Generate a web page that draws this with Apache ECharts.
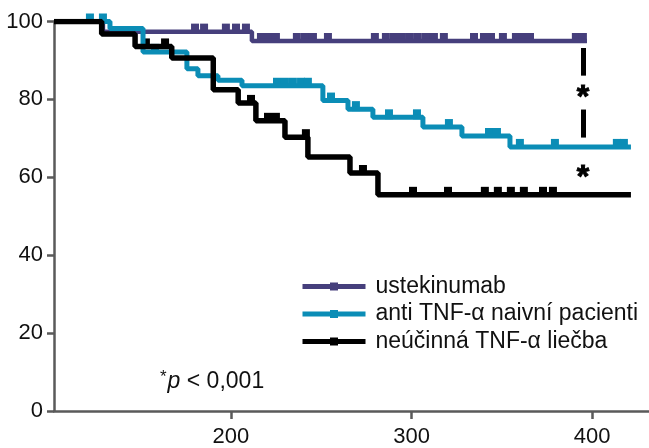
<!DOCTYPE html>
<html>
<head>
<meta charset="utf-8">
<script src="https://cdn.jsdelivr.net/npm/echarts@6/dist/echarts.min.js"></script>
<style>
  html, body { margin: 0; padding: 0; background: #fff; }
  #chart { width: 649px; height: 448px; }
</style>
</head>
<body>
<div id="chart"></div>
<script>
// step curves: [time, % at that time]
const ustSteps = [[102, 100], [129.1, 97.4], [211.6, 95.0], [397.1, 95.0]];
const naiveSteps = [[102, 100], [133.0, 98.2], [151.3, 92.2], [175.6, 87.9], [181.7, 86.1], [192.8, 84.9],
  [206.1, 83.5], [250.9, 79.7], [264.8, 77.5], [278.6, 75.4], [306.3, 72.9], [327.9, 70.6], [354.5, 67.8], [421.5, 67.8]];
const failSteps = [[102, 100], [128.4, 96.8], [146.9, 93.6], [167.2, 90.6], [190.2, 82.5], [204.0, 79.1],
  [213.8, 74.5], [229.9, 70.3], [242.6, 65.2], [265.9, 61.1], [281.4, 55.5], [421.5, 55.5]];

// censored times
const ustCensor = [180.1, 185.1, 197.2, 202.8, 208.3, 216.6, 220.5, 224.9, 236.5, 241.0, 245.4, 253.7, 279.7,
  285.8, 290.3, 294.7, 299.1, 303.5, 308.0, 312.4, 317.9, 334.6, 340.1, 344.0, 350.6, 357.8, 361.7, 365.6, 391.0, 394.9];
const naiveCensor = [121.9, 129.1, 157.9, 225.5, 229.9, 234.3, 238.8, 242.6, 255.4, 269.2, 287.5, 303.0, 320.7,
  342.9, 347.3, 360.0, 379.4, 413.7, 417.6];
const failCensor = [152.9, 163.5, 211.1, 220.5, 224.9, 241.5, 273.1, 300.8, 320.2, 340.6, 347.8, 355.0, 362.2, 372.8, 378.3];

const names = ['ustekinumab', 'anti TNF-α naivní pacienti', 'neúčinná TNF-α liečba'];
const colors = ['#463f7c', '#0b8db6', '#000000'];
const xTicks = [200, 300, 400];

// significance markers
const sigSegments = [[[395, 93.2], [395, 86.1]], [[395, 77.4], [395, 70.2]]];
const sigStars = [[395, 82.0], [395, 61.6]];

const font = 'Liberation Sans';

function levelAt(steps, t) {
  let y = steps[0][1];
  steps.forEach(p => { if (p[0] <= t) y = p[1]; });
  return y;
}

const lineSeries = {
  type: 'line',
  step: 'end',
  symbol: 'rect',
  showSymbol: false,
  silent: true,
  animation: false
};
const censorSeries = {
  type: 'scatter',
  symbol: 'rect',
  symbolSize: [8, 10],
  symbolOffset: [0, -3],
  silent: true,
  animation: false
};

const chart = echarts.init(document.getElementById('chart'));
const option = {
  animation: false,
  grid: {
    left: 54,
    right: 0,
    top: 21.5,
    bottom: 35
  },
  legend: {
    data: names,
    orient: 'vertical',
    left: 300,
    top: 275,
    padding: 0,
    itemWidth: 63,
    itemHeight: 10,
    itemGap: 4.5,
    selectedMode: false,
    lineStyle: { width: 5 },
    textStyle: {
      fontFamily: font,
      fontSize: 23,
      lineHeight: 23,
      color: '#111',
      padding: [0, 0, 0, 5]
    }
  },
  xAxis: {
    type: 'value',
    min: 102,
    max: 431.5,
    axisLine: { lineStyle: { color: '#5a5a5a', width: 2.5 } },
    axisTick: { customValues: xTicks, length: 8, lineStyle: { color: '#5a5a5a', width: 2.5 } },
    axisLabel: { customValues: xTicks, margin: 15, color: '#111', fontFamily: font, fontSize: 22 },
    splitLine: { show: false }
  },
  yAxis: {
    type: 'value',
    min: 0,
    max: 100,
    interval: 20,
    axisLine: { show: true, lineStyle: { color: '#5a5a5a', width: 2.5 } },
    axisTick: { show: true, length: 7, lineStyle: { color: '#5a5a5a', width: 2.5 } },
    axisLabel: { margin: 11, color: '#111', fontFamily: font, fontSize: 22 },
    splitLine: { show: false }
  },
  graphic: [{
    type: 'text',
    left: 160,
    top: 369,
    style: {
      text: '{s|*}{i|p} < 0,001',
      fontFamily: font,
      fontSize: 23,
      fill: '#111',
      rich: {
        s: { fontFamily: font, fontSize: 17, verticalAlign: 'top', padding: [0, 1, 8, 0], fill: '#111' },
        i: { fontFamily: font, fontSize: 23, fontStyle: 'italic', fill: '#111' }
      }
    }
  }],
  series: [
    {
      name: names[0],
      ...lineSeries,
      color: colors[0],
      lineStyle: { width: 4.5, color: colors[0] },
      data: ustSteps,
      markLine: {
        silent: true,
        symbol: ['none', 'none'],
        label: { show: false },
        lineStyle: { type: 'solid', width: 5, color: '#000' },
        data: sigSegments.map(s => [{ coord: s[0] }, { coord: s[1] }])
      }
    },
    {
      name: 'ust-censor',
      ...censorSeries,
      itemStyle: { color: colors[0], opacity: 1 },
      data: ustCensor.map(t => [t, levelAt(ustSteps, t)])
    },
    {
      name: names[1],
      ...lineSeries,
      color: colors[1],
      lineStyle: { width: 5, color: colors[1] },
      data: naiveSteps
    },
    {
      name: 'naive-censor',
      ...censorSeries,
      itemStyle: { color: colors[1], opacity: 1 },
      data: naiveCensor.map(t => [t, levelAt(naiveSteps, t)])
    },
    {
      name: names[2],
      ...lineSeries,
      color: colors[2],
      lineStyle: { width: 5.5, color: colors[2] },
      data: failSteps
    },
    {
      name: 'fail-censor',
      ...censorSeries,
      itemStyle: { color: colors[2], opacity: 1 },
      data: failCensor.map(t => [t, levelAt(failSteps, t)])
    },
    {
      name: 'stars',
      type: 'scatter',
      symbol: 'circle',
      symbolSize: 1,
      silent: true,
      itemStyle: { color: 'rgba(0,0,0,0)', opacity: 1 },
      label: {
        show: true,
        position: 'inside',
        formatter: '*',
        fontFamily: font,
        fontSize: 32,
        fontWeight: 'bold',
        color: '#000',
        textBorderColor: '#000',
        textBorderWidth: 1,
        offset: [0, 7]
      },
      data: sigStars
    }
  ]
};
chart.setOption(option);
</script>
</body>
</html>
